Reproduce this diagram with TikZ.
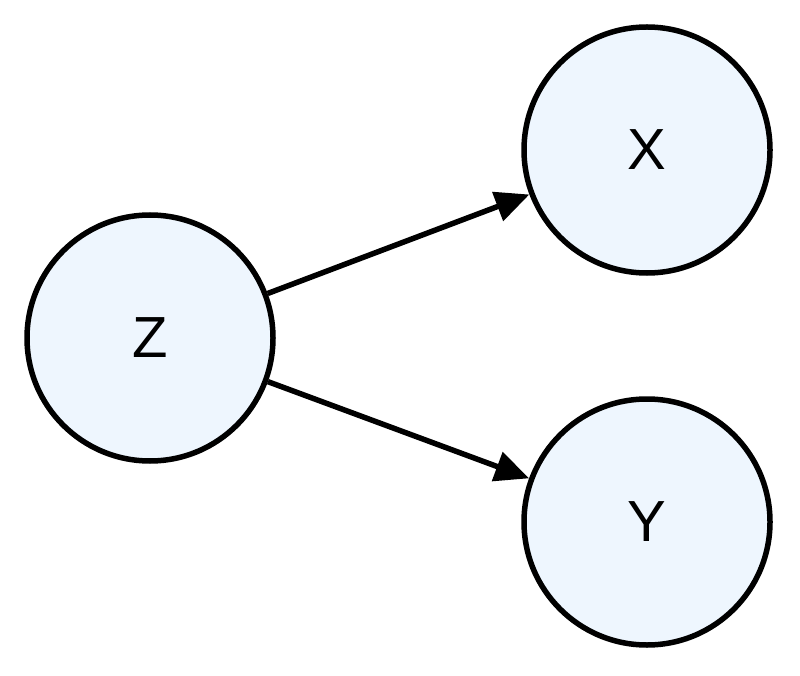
\documentclass[tikz,border=0pt]{standalone}
\usepackage{fontspec}
\setmainfont{Liberation Sans}
\usetikzlibrary{arrows.meta}
\definecolor{nodefill}{HTML}{EEF6FE}
\begin{document}
\begin{tikzpicture}[x=1pt,y=-1pt,
  var/.style={circle,draw=black,fill=nodefill,line width=5.5pt,minimum size=246pt,inner sep=0pt,font=\fontsize{58}{62}\selectfont},
  edge/.style={line width=5.5pt,-{Triangle[length=34pt,width=30pt]}}]
\useasboundingbox (0,0) rectangle (800,676);
\node[var] (z) at (150,338) {Z};
\node[var] (x) at (647,150) {X};
\node[var] (y) at (647,522) {Y};
\draw[edge] (z) -- (x);
\draw[edge] (z) -- (y);
\end{tikzpicture}
\end{document}
